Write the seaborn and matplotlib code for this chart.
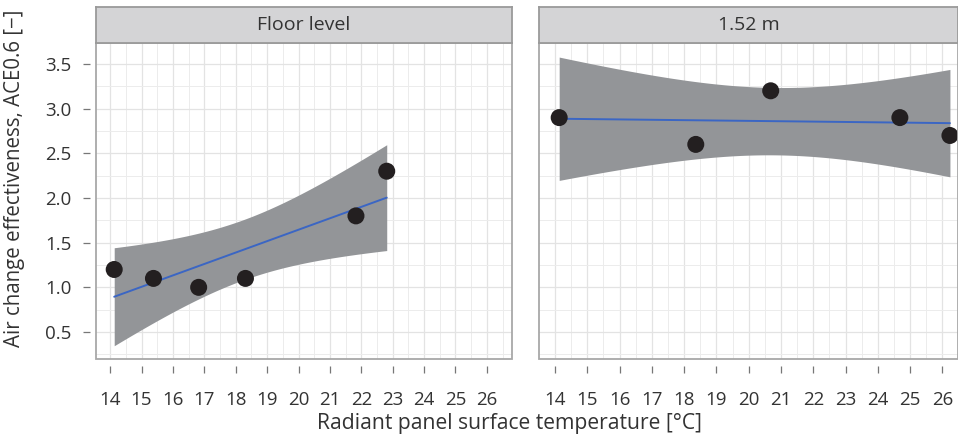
import numpy as np
import pandas as pd
import matplotlib
matplotlib.use("Agg")
import matplotlib.pyplot as plt
import seaborn as sns
from matplotlib.ticker import MultipleLocator, FixedLocator
from matplotlib.patches import Rectangle

# ---- data -------------------------------------------------------------
panels = ["Floor level", "1.52 m"]
floor_temp = [14.13, 15.38, 16.82, 18.31, 21.83, 22.81]
floor_ace = [1.2, 1.1, 1.0, 1.1, 1.8, 2.3]
head_temp = [14.13, 18.36, 20.68, 24.68, 26.23]
head_ace = [2.9, 2.6, 3.2, 2.9, 2.7]
x_ticks = list(range(14, 27))
y_ticks = [0.5, 1.0, 1.5, 2.0, 2.5, 3.0, 3.5]

# two-sided 95 % Student t quantiles by residual degrees of freedom
T975 = {3: 3.182446, 4: 2.776445}


def linear_fit_band(x, y, n_grid=100):
    """OLS line with a 95 % confidence band for the mean response."""
    x = np.asarray(x, float)
    y = np.asarray(y, float)
    n = len(x)
    slope, intercept = np.polyfit(x, y, 1)
    resid = y - (slope * x + intercept)
    s = np.sqrt(np.sum(resid ** 2) / (n - 2))
    xm = x.mean()
    sxx = np.sum((x - xm) ** 2)
    grid = np.linspace(x.min(), x.max(), n_grid)
    fit = slope * grid + intercept
    half = T975[n - 2] * s * np.sqrt(1.0 / n + (grid - xm) ** 2 / sxx)
    return pd.DataFrame({"temp": grid, "fit": fit, "lo": fit - half, "hi": fit + half})


# ---- style ------------------------------------------------------------
sns.set_theme(style="white")
plt.rcParams["font.family"] = ["Open Sans", "DejaVu Sans"]

TEXT = "#333333"
GRID_MAJOR = "#e3e3e3"
GRID_MINOR = "#ececec"
BORDER = "#a8a8a8"
STRIP_FILL = "#d4d4d6"
STRIP_EDGE = "#9a9a9a"
BAND = "#939598"
LINE = "#3b66c4"
POINT = "#231f20"

W, H = 958, 438
fig = plt.figure(figsize=(W / 100, H / 100), dpi=100)


def px_axes(left, right, top, bottom):
    return fig.add_axes([left / W, 1 - bottom / H, (right - left) / W, (bottom - top) / H])


# panel rectangles in pixels: (left, right, top, bottom) and x-limits
layout = [
    dict(rect=(96, 512, 43, 359), xlim=(13.55, 26.80)),
    dict(rect=(539, 958, 43, 359), xlim=(13.505, 26.48)),
]
datasets = [(floor_temp, floor_ace), (head_temp, head_ace)]

for i, (title, spec, (xs, ys)) in enumerate(zip(panels, layout, datasets)):
    left, right, top, bottom = spec["rect"]
    ax = px_axes(left, right, top, bottom)
    ax.set_xlim(*spec["xlim"])
    ax.set_ylim(0.198, 3.735)

    # grid
    ax.xaxis.set_major_locator(FixedLocator(x_ticks))
    ax.xaxis.set_minor_locator(MultipleLocator(0.5))
    ax.yaxis.set_major_locator(FixedLocator(y_ticks))
    ax.yaxis.set_minor_locator(MultipleLocator(0.25))
    ax.grid(which="major", color=GRID_MAJOR, lw=0.9)
    ax.grid(which="minor", color=GRID_MINOR, lw=0.7)
    ax.set_axisbelow(True)

    # fit + band + points
    band = linear_fit_band(xs, ys)
    ax.fill_between(band["temp"], band["lo"], band["hi"], color=BAND, lw=0, zorder=2)
    sns.lineplot(data=band, x="temp", y="fit", ax=ax, color=LINE, lw=1.4, zorder=3)
    pts = pd.DataFrame({"temp": xs, "ace": ys})
    sns.scatterplot(data=pts, x="temp", y="ace", ax=ax, color=POINT, s=150,
                    edgecolor="none", zorder=4, clip_on=False)

    # border drawn as a patch; spines pushed outward so ticks float away
    for sp in ax.spines.values():
        sp.set_visible(False)
    ax.spines["bottom"].set_position(("outward", 5))
    ax.spines["left"].set_position(("outward", 4.5))
    ax.add_patch(Rectangle((0, 0), 1, 1, transform=ax.transAxes, fill=False,
                           edgecolor=BORDER, lw=1.3, zorder=5, clip_on=False))

    ax.tick_params(axis="both", which="major", direction="out", length=5,
                   width=0.9, color="#777777", labelcolor=TEXT, labelsize=13.5)
    ax.tick_params(axis="x", which="major", pad=13, bottom=True)
    ax.tick_params(axis="y", which="major", pad=8, left=(i == 0), labelleft=(i == 0))
    ax.tick_params(which="minor", length=0)
    ax.set_xticklabels([str(t) for t in x_ticks])
    if i == 0:
        ax.set_yticklabels([f"{t:.1f}" for t in y_ticks])
    ax.set_xlabel("")
    ax.set_ylabel("")

    # facet strip
    sax = px_axes(left, right, 7, 43)
    sax.set_xticks([])
    sax.set_yticks([])
    sax.set_facecolor(STRIP_FILL)
    for sp in sax.spines.values():
        sp.set_edgecolor(STRIP_EDGE)
        sp.set_linewidth(1.3)
    sax.text(0.5, 0.5, title, ha="center", va="center", fontsize=14,
             color=TEXT, transform=sax.transAxes)

fig.text(510 / W, 1 - 424 / H, "Radiant panel surface temperature [°C]",
         ha="center", va="center", fontsize=15.2, color=TEXT)
fig.text(15 / W, 1 - 178 / H, "Air change effectiveness, ACE0.6 [\u2212]",
         ha="center", va="center", rotation=90, fontsize=14.8, color=TEXT)

fig.savefig("out.png", dpi=100, facecolor="white")
